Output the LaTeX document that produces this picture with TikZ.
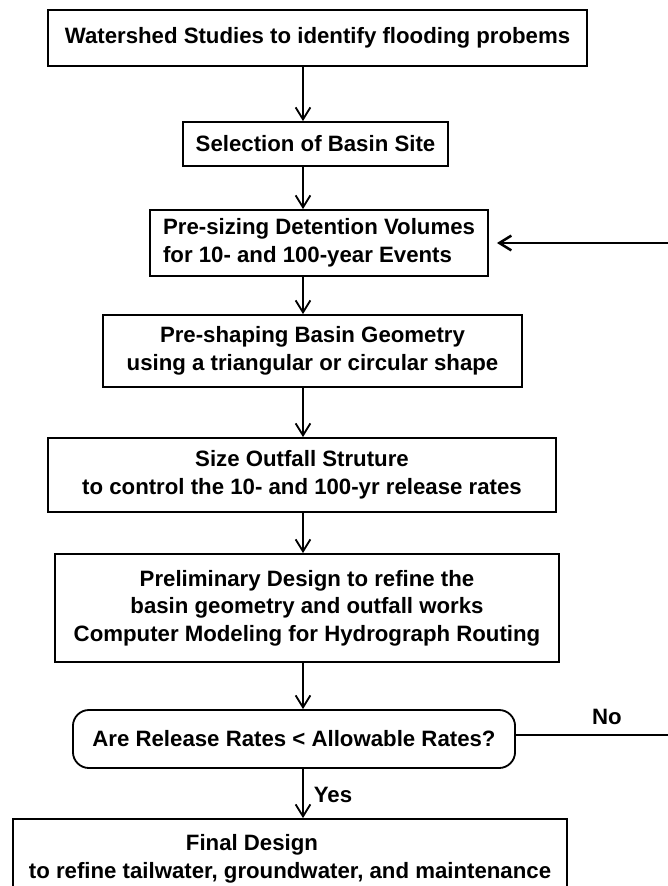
\documentclass[tikz,border=0pt]{standalone}
\usepackage{fontspec}
\setmainfont{Liberation Sans}
\usetikzlibrary{arrows.meta}
\tikzstyle{block} = [rectangle, draw, line width=1.3pt, align=center, inner sep=2pt, font=\bfseries\fontsize{15.8}{19.6}\selectfont]
\tikzstyle{decision} = [block, rounded corners=0.4cm]
\tikzstyle{tag} = [inner sep=1pt, font=\bfseries\fontsize{15.8}{19.6}\selectfont]
\tikzset{edge/.style = {
    -{Straight Barb[length=8.5pt,width=10.5pt]},
    line width=1.3pt,
  }
}

\begin{document}
\begin{tikzpicture}[x=0.025cm, y=-0.025cm]
  \useasboundingbox (0,0) rectangle (668,886);
  \clip (0,0) rectangle (668,886);
  % vertices
  \node[block, minimum width=13.48cm, minimum height=1.4cm] (n1) at (317.5,38) {Watershed Studies to identify flooding probems};
  \node[block, minimum width=6.63cm, minimum height=1.1cm] (n2) at (315.5,144) {Selection of Basin Site};
  \node[block, align=left, minimum width=8.45cm, minimum height=1.65cm] (n3) at (319,243) {Pre-sizing Detention Volumes\\for 10- and 100-year Events};
  \node[block, minimum width=10.48cm, minimum height=1.8cm] (n4) at (312.5,351) {Pre-shaping Basin Geometry\\using a triangular or circular shape};
  \node[block, minimum width=12.7cm, minimum height=1.85cm] (n5) at (302,475) {Size Outfall Struture\\to control the 10- and 100-yr release rates};
  \node[block, minimum width=12.6cm, minimum height=2.7cm] (n6) at (307,608) {Preliminary Design to refine the\\basin geometry and outfall works\\Computer Modeling for Hydrograph Routing};
  \node[decision, minimum width=11.05cm, minimum height=1.45cm] (dec) at (294,739) {Are Release Rates < Allowable Rates?};
  \node[block, minimum width=13.85cm, minimum height=2.0cm] (n7) at (290,859) {Final Design\hspace*{1.9cm}\\to refine tailwater, groundwater, and maintenance};

  \node[tag] (no) at (607,717) {No};
  \node[tag] (yes) at (333,795) {Yes};

  \coordinate (spine) at (303,0);
  \coordinate (back) at (700,735);

  %edges
  \draw[edge] (n1.south -| spine) to (n2.north -| spine);
  \draw[edge] (n2.south -| spine) to (n3.north -| spine);
  \draw[edge] (n3.south -| spine) to (n4.north -| spine);
  \draw[edge] (n4.south -| spine) to (n5.north -| spine);
  \draw[edge] (n5.south -| spine) to (n6.north -| spine);
  \draw[edge] (n6.south -| spine) to (dec.north -| spine);
  \draw[edge] (dec.south -| spine) to (n7.north -| spine);

  %loop back
  \draw[edge, line width=1.8pt, shorten >=0.2cm] (dec.east |- back) -- (back) |- (n3.east);
\end{tikzpicture}
\end{document}
